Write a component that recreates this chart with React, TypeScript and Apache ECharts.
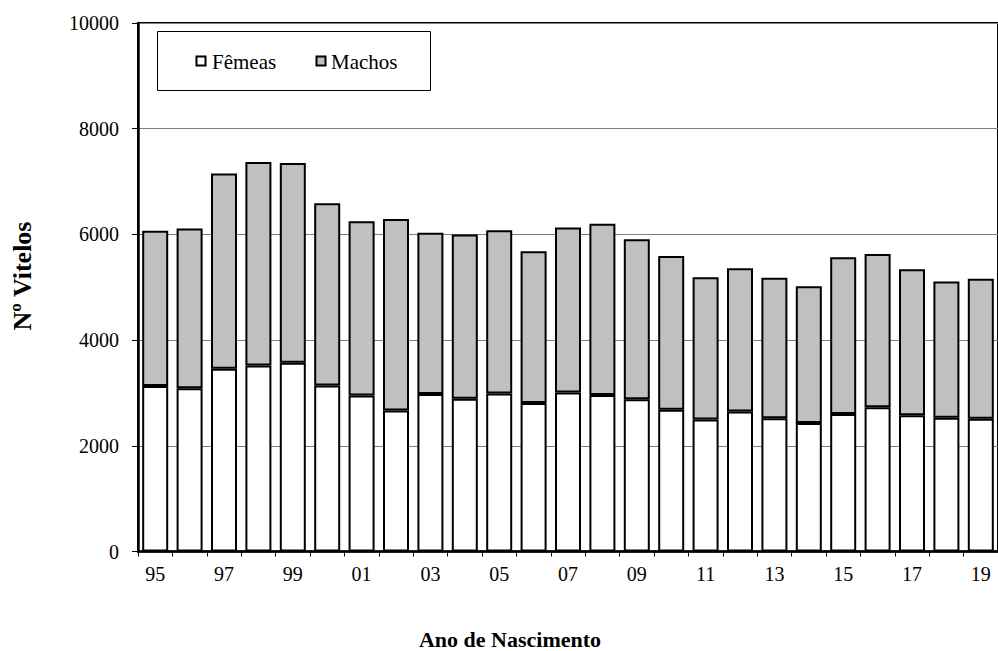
import React, { useEffect, useRef } from "react";
import * as echarts from "echarts";

const categories = ["95","96","97","98","99","00","01","02","03","04","05","06","07","08","09","10","11","12","13","14","15","16","17","18","19"];
const femeas = [3130, 3090, 3460, 3520, 3570, 3140, 2950, 2670, 2980, 2890, 2990, 2810, 3010, 2960, 2880, 2680, 2500, 2650, 2520, 2430, 2600, 2730, 2580, 2530, 2510];
const machos = [2940, 3020, 3690, 3850, 3780, 3450, 3300, 3620, 3050, 3110, 3090, 2870, 3120, 3240, 3030, 2910, 2690, 2710, 2660, 2590, 2970, 2900, 2760, 2580, 2650];
const yTicks = { min: 0, max: 10000, interval: 2000 };
const seriesNames = ["Fêmeas", "Machos"];
const seriesColors = ["#ffffff", "#c0c0c0"];

const FONT = "Liberation Serif";

export default function App() {
  const ref = useRef<HTMLDivElement>(null);
  useEffect(() => {
    if (!ref.current) return;
    const chart = echarts.init(ref.current, undefined, { renderer: "svg" });
    const legendX = [[196.5, 212], [316.5, 331]];
    const legendGraphics: any[] = [];
    seriesNames.forEach((n, i) => {
      legendGraphics.push({
        type: "rect",
        shape: { x: legendX[i][0], y: 56.5, width: 9, height: 9 },
        style: { fill: seriesColors[i], stroke: "#000", lineWidth: 2 },
        z: 100,
      });
      legendGraphics.push({
        type: "text",
        x: legendX[i][1],
        y: 62,
        style: {
          text: n,
          fontFamily: FONT,
          fontSize: 21,
          fill: "#000",
          align: "left",
          verticalAlign: "middle",
        },
        z: 100,
      });
    });
    chart.setOption({
      animation: false,
      backgroundColor: "#fff",
      textStyle: { fontFamily: FONT },
      grid: {
        left: 138,
        top: 23,
        width: 870,
        bottom: 99.5,
        show: true,
        borderColor: "#000",
        borderWidth: 2,
        backgroundColor: "transparent",
      },
      xAxis: {
        type: "category",
        data: categories,
        boundaryGap: true,
        axisLine: { lineStyle: { color: "#000", width: 2.5 } },
        axisTick: { show: true, interval: 0, length: 5, lineStyle: { color: "#000", width: 1 } },
        axisLabel: { interval: 1, margin: 12, fontFamily: FONT, fontSize: 20, color: "#000" },
        splitLine: { show: false },
      },
      yAxis: {
        type: "value",
        min: yTicks.min,
        max: yTicks.max,
        interval: yTicks.interval,
        axisLine: { show: true, lineStyle: { color: "#000", width: 2.5 } },
        axisTick: { show: true, length: 6, lineStyle: { color: "#000", width: 1 } },
        axisLabel: { margin: 19, fontFamily: FONT, fontSize: 20, color: "#000", formatter: (v: number) => String(v) },
        splitLine: { show: true, lineStyle: { color: "#7f7f7f", width: 1 } },
      },
      graphic: [
        {
          type: "rect",
          shape: { x: 157.5, y: 31.5, width: 273, height: 59 },
          style: { fill: "#fff", stroke: "#000", lineWidth: 1 },
          z: 99,
        },
        ...legendGraphics,
        {
          type: "text",
          x: 22,
          y: 276,
          rotation: Math.PI / 2,
          style: {
            text: "Nº Vitelos",
            fontFamily: FONT,
            fontSize: 26,
            fontWeight: "bold",
            fill: "#000",
            align: "center",
            verticalAlign: "middle",
          },
        },
        {
          type: "text",
          x: 510,
          y: 639,
          style: {
            text: "Ano de Nascimento",
            fontFamily: FONT,
            fontSize: 22,
            fontWeight: "bold",
            fill: "#000",
            align: "center",
            verticalAlign: "middle",
          },
        },
      ],
      series: [
        {
          name: seriesNames[0],
          type: "bar",
          stack: "total",
          data: femeas,
          barWidth: 26,
          itemStyle: { color: seriesColors[0], borderColor: "#000", borderWidth: 2 },
        },
        {
          name: seriesNames[1],
          type: "bar",
          stack: "total",
          data: machos,
          barWidth: 26,
          itemStyle: { color: seriesColors[1], borderColor: "#000", borderWidth: 2 },
        },
      ],
    });
    return () => chart.dispose();
  }, []);
  return (
    <div
      ref={ref}
      style={{ position: "absolute", left: 0, top: 0, width: 998, height: 651 }}
    />
  );
}
